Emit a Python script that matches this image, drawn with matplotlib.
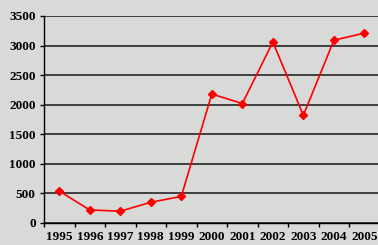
import numpy as np
import matplotlib.pyplot as plt

years = ["1995", "1996", "1997", "1998", "1999", "2000",
         "2001", "2002", "2003", "2004", "2005"]
values = [540, 220, 200, 350, 450, 2180, 2020, 3060, 1820, 3090, 3210]
y_ticks = [0, 500, 1000, 1500, 2000, 2500, 3000, 3500]

plt.rcParams['font.family'] = ['Liberation Serif', 'DejaVu Serif']

fig = plt.figure(figsize=(3.78, 2.45), dpi=100)
fig.patch.set_facecolor('#d8dad8')
ax = fig.add_axes([0.1164, 0.0898, 0.888, 0.845])
ax.set_facecolor('#d8dad8')

x = np.arange(len(years))
ax.plot(x, values, color='#ff0000', linewidth=1.2, marker='D', markersize=4.5,
        markerfacecolor='#ff0000', markeredgecolor='#ff0000', zorder=3)

ax.set_xlim(-0.5, len(years) - 0.5)
ax.set_ylim(0, 3500)
ax.set_yticks(y_ticks)
ax.yaxis.grid(True, color='#333333', linewidth=1.3)
ax.set_axisbelow(True)

# ticks at category boundaries, labels at centres
ax.set_xticks(np.arange(-0.5, len(years) - 0.4, 1))
ax.set_xticklabels([])
ax.set_xticks(x, minor=True)
ax.set_xticklabels(years, minor=True, fontsize=9.5, fontweight='bold')
ax.tick_params(axis='x', which='minor', length=0, pad=5.5)
ax.tick_params(axis='x', which='major', length=3, direction='out', width=1)
ax.tick_params(axis='y', length=3, width=1, labelsize=9.5, pad=3)
for lab in ax.get_yticklabels():
    lab.set_fontweight('bold')

for s in ['top', 'right']:
    ax.spines[s].set_visible(False)
for s in ['left', 'bottom']:
    ax.spines[s].set_color('black')
    ax.spines[s].set_linewidth(1)

fig.savefig('out.png', dpi=100, facecolor=fig.get_facecolor())
